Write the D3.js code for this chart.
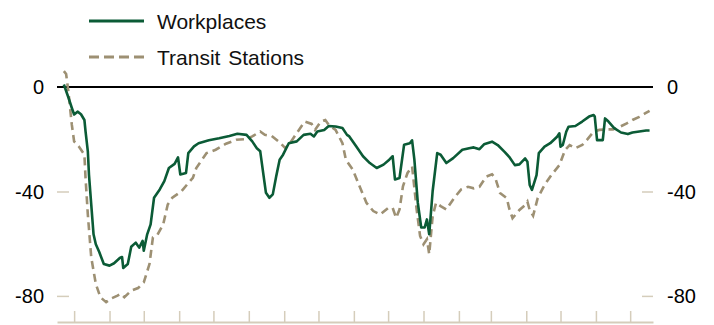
<!DOCTYPE html>
<html>
<head>
<meta charset="utf-8">
<script src="https://cdn.jsdelivr.net/npm/d3@7"></script>
<style>
  html, body { margin: 0; padding: 0; background: #fff; }
  svg { display: block; font-family: "Liberation Sans", Arial, sans-serif; }
</style>
</head>
<body>
<svg id="chart" width="714" height="325"></svg>
<script>
// ---------------- data ----------------
const seriesNames = ["Workplaces", "Transit Stations"];

const workplacesDates = [
  "2020-02-21","2020-02-25","2020-02-28","2020-03-01","2020-03-04","2020-03-07","2020-03-10","2020-03-11",
  "2020-03-13","2020-03-14","2020-03-16","2020-03-18","2020-03-20","2020-03-23","2020-03-27","2020-04-01",
  "2020-04-05","2020-04-10","2020-04-12","2020-04-13","2020-04-17","2020-04-20","2020-04-24","2020-04-27",
  "2020-04-30","2020-05-01","2020-05-04","2020-05-07","2020-05-10","2020-05-15","2020-05-19","2020-05-23",
  "2020-05-28","2020-05-31","2020-06-02","2020-06-07","2020-06-09","2020-06-14","2020-06-18","2020-06-27",
  "2020-07-06","2020-07-15","2020-07-22","2020-07-30","2020-08-04","2020-08-08","2020-08-11","2020-08-14",
  "2020-08-16","2020-08-19","2020-08-22","2020-08-25","2020-08-28","2020-08-31","2020-09-05","2020-09-12",
  "2020-09-18","2020-09-24","2020-09-27","2020-09-30","2020-10-06","2020-10-10","2020-10-16","2020-10-22",
  "2020-10-26","2020-10-28","2020-11-03","2020-11-09","2020-11-15","2020-11-21","2020-11-27","2020-12-02",
  "2020-12-05","2020-12-07","2020-12-11","2020-12-15","2020-12-20","2020-12-22","2020-12-24","2020-12-27",
  "2020-12-30","2021-01-02","2021-01-04","2021-01-06","2021-01-09","2021-01-13","2021-01-16","2021-01-21",
  "2021-01-27","2021-02-04","2021-02-10","2021-02-14","2021-02-19","2021-02-23","2021-03-02","2021-03-07",
  "2021-03-13","2021-03-17","2021-03-22","2021-03-26","2021-03-31","2021-04-02","2021-04-04","2021-04-06",
  "2021-04-10","2021-04-12","2021-04-17","2021-04-22","2021-04-28","2021-04-30","2021-05-01","2021-05-03",
  "2021-05-06","2021-05-08","2021-05-14","2021-05-20","2021-05-26","2021-05-30","2021-05-31","2021-06-02",
  "2021-06-07","2021-06-09","2021-06-12","2021-06-17","2021-06-23","2021-06-29","2021-07-03","2021-07-09",
  "2021-07-15","2021-07-18"
];
const workplacesValues = [
  1,-4,-8,-10.5,-9.4,-10.4,-12.6,-17,
  -24.6,-33.5,-45,-56.4,-60.2,-63.2,-67.8,-68.4,
  -67.5,-65.5,-65.1,-69.3,-67.8,-61.2,-59.6,-61.5,
  -58.9,-62.7,-56.4,-52.6,-42.4,-39.2,-36,-31,
  -29.4,-26.9,-33.5,-32.9,-25.3,-22.7,-21.5,-20.4,
  -19.6,-18.7,-17.9,-18.3,-20.8,-23.4,-24.6,-34.2,
  -40.5,-42.4,-41.1,-34.2,-27.8,-25.9,-21.5,-20.8,
  -18.3,-17.9,-18.9,-17,-16.4,-14.9,-15.1,-15.7,
  -18.3,-18.9,-22.7,-26.5,-29.1,-31,-29.7,-27.8,
  -26.5,-35.4,-34.8,-22.1,-21.5,-20.4,-27.8,-44.3,
  -53.8,-53.8,-50.7,-56.4,-39.9,-25.3,-25.9,-29.1,
  -27.2,-24,-23.4,-23.1,-23.8,-21.9,-20.9,-22.2,
  -24.8,-26.7,-29.9,-29.6,-27.3,-28.6,-37.5,-39.4,
  -33.7,-25.3,-22.8,-21.5,-19,-17.7,-22.8,-22.2,
  -17.1,-15.2,-14.9,-13.2,-11.3,-10.7,-11.3,-20.3,
  -20.3,-12,-13.2,-15.7,-17.4,-18,-17.4,-17,
  -16.6,-16.6
];

const transitDates = [
  "2020-02-21","2020-02-23","2020-02-25","2020-02-28","2020-03-01","2020-03-05","2020-03-10","2020-03-11",
  "2020-03-13","2020-03-16","2020-03-20","2020-03-24","2020-03-29","2020-04-02","2020-04-08","2020-04-11",
  "2020-04-14","2020-04-20","2020-04-26","2020-05-01","2020-05-06","2020-05-09","2020-05-13","2020-05-18",
  "2020-05-22","2020-05-26","2020-06-03","2020-06-08","2020-06-13","2020-06-16","2020-06-25","2020-07-03",
  "2020-07-12","2020-07-21","2020-07-30","2020-08-04","2020-08-11","2020-08-15","2020-08-21","2020-08-27",
  "2020-09-02","2020-09-06","2020-09-12","2020-09-19","2020-09-25","2020-09-28","2020-10-03","2020-10-07",
  "2020-10-10","2020-10-16","2020-10-22","2020-10-25","2020-10-31","2020-11-06","2020-11-12","2020-11-18",
  "2020-11-24","2020-12-01","2020-12-05","2020-12-08","2020-12-11","2020-12-14","2020-12-18","2020-12-22",
  "2020-12-26","2020-12-29","2021-01-01","2021-01-04","2021-01-06","2021-01-09","2021-01-12","2021-01-16",
  "2021-01-21","2021-01-28","2021-02-03","2021-02-09","2021-02-14","2021-02-19","2021-02-25","2021-03-02",
  "2021-03-05","2021-03-09","2021-03-15","2021-03-17","2021-03-20","2021-03-26","2021-03-31","2021-04-02",
  "2021-04-04","2021-04-07","2021-04-11","2021-04-17","2021-04-23","2021-04-30","2021-05-05","2021-05-09",
  "2021-05-14","2021-05-20","2021-05-24","2021-05-30","2021-06-04","2021-06-10","2021-06-16","2021-06-22",
  "2021-06-28","2021-07-03","2021-07-09","2021-07-14","2021-07-18"
];
const transitValues = [
  6.1,5,-1.8,-14.5,-20.8,-22.7,-25.9,-34.8,
  -48.8,-65.3,-75.4,-80.5,-82.4,-81.1,-79.9,-79.2,
  -80.5,-78,-77,-74.8,-67.8,-57.6,-56.6,-52.6,
  -45,-42.4,-39.9,-37.3,-34.8,-31,-25.3,-24,
  -21.7,-20.2,-19.9,-18.9,-17,-18.3,-18.7,-20.8,
  -23.4,-21.5,-17.6,-13.2,-14.1,-16.4,-13.2,-12.6,
  -14.5,-16.4,-21.5,-27.8,-31.6,-38,-44.3,-47.5,
  -48.8,-46.3,-46.3,-50.1,-46.9,-38,-32.9,-30.4,
  -46.9,-57,-60.2,-58.3,-64,-49.5,-44.3,-45.6,
  -46.9,-42.4,-39.2,-38.2,-38.8,-38.2,-34.3,-33.4,
  -35,-40.6,-42.6,-46.4,-50.2,-47.1,-45.2,-43.9,
  -47.1,-49.3,-42.6,-37.5,-33.7,-29.9,-24.1,-22.2,
  -23.4,-22.2,-20.3,-17.1,-16.4,-16.2,-16.2,-15.2,
  -13.9,-12.6,-11.4,-10.1,-9.1
];

const yTickValues = [0, -40, -80];
const yTickLabels = ["0", "-40", "-80"];
const xTickMonths = [
  "2020-03-01","2020-04-01","2020-05-01","2020-06-01","2020-07-01","2020-08-01","2020-09-01",
  "2020-10-01","2020-11-01","2020-12-01","2021-01-01","2021-02-01","2021-03-01","2021-04-01",
  "2021-05-01","2021-06-01","2021-07-01"
];
const xDomainDates = ["2020-02-15", "2021-07-21"];
const yDomain = [-90, 10];

// ---------------- drawing ----------------
const parse = d3.utcParse("%Y-%m-%d");
const svg = d3.select("#chart");

const plotLeft = 57, plotRight = 653, plotTop = 61, plotBottom = 322;

const x = d3.scaleUtc().domain(xDomainDates.map(parse)).range([plotLeft, plotRight]);
const y = d3.scaleLinear().domain(yDomain).range([plotBottom, plotTop]);

const colWork = "#0b5b36";
const colTransit = "#9d9073";
const colAxis = "#d5cdbb";

// bottom axis (ticks pointing up)
const xAxis = d3.axisBottom(x)
  .tickValues(xTickMonths.map(parse))
  .tickSizeInner(-11)
  .tickSizeOuter(0)
  .tickFormat("");
const gx = svg.append("g").attr("transform", `translate(0,${plotBottom})`).call(xAxis);
gx.select(".domain").attr("stroke", colAxis).attr("stroke-width", 2);
gx.selectAll(".tick line").attr("stroke", colAxis).attr("stroke-width", 1.5);

// left axis: short ticks inside the plot
const yLeft = d3.axisRight(y).tickValues(yTickValues.filter(v => v !== 0)).tickSize(12).tickFormat("");
const gyl = svg.append("g").attr("transform", `translate(${plotLeft},0)`).call(yLeft);
gyl.select(".domain").remove();
gyl.selectAll(".tick line").attr("stroke", colAxis).attr("stroke-width", 1.5);

// right axis: short ticks inside the plot
const yRight = d3.axisLeft(y).tickValues(yTickValues.filter(v => v !== 0)).tickSize(11).tickFormat("");
const gyr = svg.append("g").attr("transform", `translate(${plotRight},0)`).call(yRight);
gyr.select(".domain").remove();
gyr.selectAll(".tick line").attr("stroke", colAxis).attr("stroke-width", 1.5);

// tick labels
svg.append("g").selectAll("text").data(yTickValues).join("text")
  .attr("x", 44).attr("y", d => y(d)).attr("dy", "0.36em")
  .attr("text-anchor", "end").attr("font-size", 20).attr("fill", "#000")
  .text((d, i) => yTickLabels[i]);
svg.append("g").selectAll("text").data(yTickValues).join("text")
  .attr("x", 667).attr("y", d => y(d)).attr("dy", "0.36em")
  .attr("text-anchor", "start").attr("font-size", 20).attr("fill", "#000")
  .text((d, i) => yTickLabels[i]);

// zero line
svg.append("line")
  .attr("x1", plotLeft).attr("x2", plotRight)
  .attr("y1", y(0)).attr("y2", y(0))
  .attr("stroke", "#000").attr("stroke-width", 2);

// lines
const line = d3.line().x(d => x(d[0])).y(d => y(d[1]));
const transitData = transitDates.map((d, i) => [parse(d), transitValues[i]]);
const workData = workplacesDates.map((d, i) => [parse(d), workplacesValues[i]]);

svg.append("path").datum(transitData)
  .attr("d", line).attr("fill", "none")
  .attr("stroke", colTransit).attr("stroke-width", 2.6)
  .attr("stroke-dasharray", "8,5");

svg.append("path").datum(workData)
  .attr("d", line).attr("fill", "none")
  .attr("stroke", colWork).attr("stroke-width", 2.6)
  .attr("stroke-linejoin", "round");

// legend
const legend = svg.append("g");
const legendItems = [
  { name: seriesNames[0], color: colWork, dash: null, y: 21 },
  { name: seriesNames[1], color: colTransit, dash: "10,5", y: 57 }
];
legendItems.forEach(it => {
  legend.append("line")
    .attr("x1", 89).attr("x2", 144).attr("y1", it.y).attr("y2", it.y)
    .attr("stroke", it.color).attr("stroke-width", 3)
    .attr("stroke-dasharray", it.dash);
  legend.append("text")
    .attr("x", 157).attr("y", it.y).attr("dy", "0.36em")
    .attr("font-size", 21).attr("fill", "#111")
    .attr("word-spacing", "2px")
    .text(it.name);
});
</script>
</body>
</html>
